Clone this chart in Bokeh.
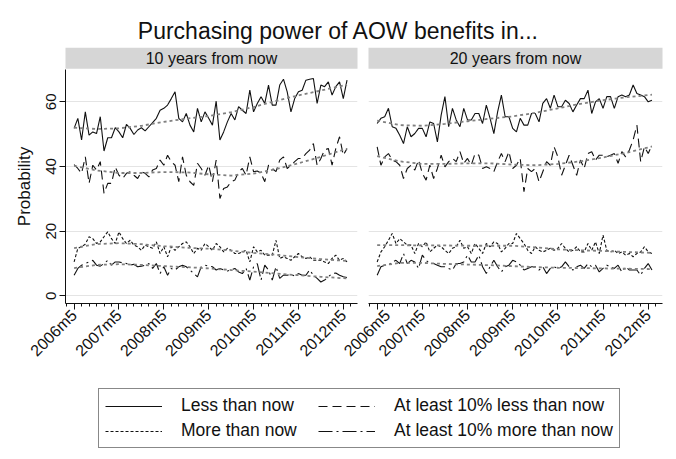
from bokeh.plotting import figure
from bokeh.models import Range1d, FixedTicker, Legend, LegendItem
from bokeh.layouts import column, row
from bokeh.embed import file_html
from bokeh.resources import INLINE
from bokeh.core.properties import value

# ---------------- data ----------------
TITLE = "Purchasing power of AOW benefits in..."
PANELS = ["10 years from now", "20 years from now"]
SERIES = ["Less than now", "More than now",
          "At least 10% less than now", "At least 10% more than now"]
Y_LABEL = "Probability"

MONTHS = list(range(74))                 # 0 = 2006m5 ... 73 = 2012m6
TICK_POS = [0, 12, 24, 36, 48, 60, 72]
TICK_LABELS = ["2006m5", "2007m5", "2008m5", "2009m5", "2010m5", "2011m5", "2012m5"]
MINOR_POS = list(range(-2, 76, 2))
Y_TICKS = [0, 20, 40, 60]
TREND_T = [0, 6, 12, 18, 24, 30, 36, 42, 48, 54, 60, 66, 73]

# 10 years from now
P10_LESS = [51.8, 54.9, 48.2, 56.9, 49.7, 50.7, 50.2, 55.4, 44.8, 48.9,
            48.9, 52.0, 50.7, 48.9, 53.0, 51.8, 49.9, 51.3, 52.0, 51.0,
            52.3, 53.6, 54.9, 57.4, 58.0, 59.0, 61.0, 63.1, 54.9, 53.8,
            56.4, 52.8, 50.7, 58.0, 53.8, 56.9, 54.9, 52.8, 60.2, 48.2,
            50.7, 53.8, 56.4, 54.4, 58.5, 57.4, 56.4, 63.6, 56.9, 59.5,
            61.6, 59.5, 65.2, 59.0, 59.0, 65.2, 67.0, 63.1, 56.9, 61.0,
            63.1, 63.6, 66.7, 67.0, 67.2, 59.5, 65.2, 64.7, 66.2, 62.1,
            64.7, 66.2, 61.0, 66.7]
P10_MORE = [10.5, 14.7, 15.2, 16.0, 18.3, 17.7, 16.2, 16.7, 18.3, 19.8,
            17.7, 16.2, 19.8, 17.7, 16.2, 17.2, 15.7, 15.2, 14.1, 15.7,
            15.2, 14.7, 16.7, 13.1, 15.2, 12.1, 15.2, 14.1, 15.2, 16.2,
            16.7, 15.2, 13.1, 14.7, 14.1, 16.2, 15.2, 14.1, 16.2, 15.2,
            13.6, 14.7, 14.1, 13.1, 13.1, 13.6, 14.1, 10.5, 15.2, 13.6,
            14.1, 12.6, 12.6, 12.6, 17.2, 11.6, 12.1, 11.6, 11.0, 12.1,
            13.1, 12.1, 11.6, 12.1, 11.0, 11.0, 11.0, 10.5, 10.0, 11.6,
            12.6, 11.0, 11.6, 10.5]
P10_LESS10 = [40.6, 39.4, 37.9, 43.0, 34.8, 40.4, 38.9, 41.5, 31.7, 34.8,
              34.8, 39.9, 37.3, 36.3, 37.9, 38.4, 37.3, 36.3, 38.4, 37.9,
              36.8, 38.9, 39.4, 42.0, 40.4, 43.5, 41.5, 40.4, 35.3, 43.0,
              37.3, 35.3, 34.2, 41.0, 39.4, 37.3, 40.4, 35.3, 42.0, 30.1,
              33.2, 33.7, 35.3, 35.8, 38.4, 39.4, 37.3, 43.0, 38.4, 38.6,
              37.9, 35.3, 40.4, 39.4, 38.4, 42.0, 43.0, 39.4, 40.4, 41.5,
              42.5, 42.5, 44.0, 45.1, 47.1, 40.4, 42.5, 45.1, 45.6, 40.4,
              45.6, 49.2, 43.5, 45.6]
P10_MORE10 = [6.4, 8.5, 9.5, 10.0, 10.5, 11.0, 9.5, 9.2, 10.0, 11.0,
              9.5, 10.5, 10.5, 10.2, 10.0, 9.5, 9.8, 9.0, 9.2, 9.5,
              10.0, 8.5, 10.0, 6.9, 9.0, 6.4, 8.5, 8.0, 9.0, 9.5,
              9.0, 8.0, 6.9, 5.9, 9.0, 9.5, 9.2, 9.0, 8.0, 8.5,
              8.0, 7.7, 8.0, 8.5, 7.4, 6.9, 8.5, 4.9, 9.0, 10.0,
              4.9, 9.5, 8.0, 4.9, 9.0, 5.4, 6.4, 6.4, 6.7, 6.1,
              6.9, 6.4, 6.4, 8.0, 6.4, 5.4, 4.3, 4.9, 5.9, 6.9,
              7.1, 6.4, 5.9, 5.7]
P10_LESS_TREND = [52.0, 51.6, 51.8, 52.6, 53.8, 54.8, 55.6, 56.8, 58.4, 60.3, 62.0, 63.5, 65.3]
P10_MORE_TREND = [14.8, 16.0, 16.3, 16.0, 15.4, 14.9, 14.6, 14.0, 13.3, 12.7, 12.0, 11.4, 10.8]
P10_LESS10_TREND = [40.2, 38.8, 38.0, 38.0, 38.3, 38.2, 37.6, 37.2, 37.8, 39.2, 41.0, 43.0, 45.5]
P10_MORE10_TREND = [8.6, 9.6, 9.8, 9.6, 9.2, 8.9, 8.5, 8.0, 7.5, 6.9, 6.4, 5.9, 5.4]

# 20 years from now
P20_LESS = [53.3, 54.9, 55.4, 58.0, 52.3, 51.8, 49.7, 47.1, 52.3, 49.2,
            50.2, 51.8, 51.8, 49.2, 53.8, 53.3, 47.6, 55.9, 61.6, 52.3,
            58.0, 54.4, 52.3, 58.0, 54.4, 54.4, 56.4, 56.4, 53.3, 59.0,
            54.9, 50.2, 56.9, 62.1, 55.4, 55.4, 51.8, 50.7, 54.9, 52.8,
            52.8, 56.4, 56.4, 53.8, 59.5, 61.0, 58.0, 62.1, 58.5, 58.5,
            60.5, 59.5, 56.9, 59.0, 61.0, 61.0, 63.6, 56.4, 60.0, 61.0,
            58.0, 61.6, 61.6, 58.0, 61.6, 62.1, 61.6, 62.1, 65.2, 62.6,
            62.1, 61.6, 60.0, 60.5]
P20_MORE = [10.5, 13.6, 15.2, 17.2, 19.3, 16.2, 17.7, 16.7, 15.7, 15.7,
            13.1, 16.2, 15.2, 16.7, 13.6, 14.7, 15.7, 15.2, 14.1, 13.1,
            14.7, 15.2, 17.2, 14.7, 15.2, 13.1, 16.2, 14.7, 13.1, 16.2,
            15.2, 16.7, 16.2, 13.6, 14.7, 16.2, 16.2, 19.3, 17.7, 16.2,
            14.1, 13.1, 15.2, 14.1, 13.6, 14.1, 14.7, 14.1, 14.7, 16.2,
            14.7, 13.6, 14.1, 15.2, 13.6, 13.6, 16.2, 14.1, 16.7, 13.1,
            18.8, 14.1, 13.6, 14.1, 13.1, 13.6, 12.6, 13.1, 12.1, 13.1,
            13.6, 15.2, 13.6, 13.1]
P20_LESS10 = [46.1, 40.4, 43.0, 44.0, 42.0, 41.5, 40.4, 36.3, 39.4, 40.4,
              38.9, 42.0, 37.9, 35.8, 40.4, 36.3, 39.4, 43.5, 39.9, 41.5,
              42.5, 41.5, 44.6, 41.0, 42.5, 40.4, 44.0, 43.5, 39.4, 39.9,
              39.4, 38.4, 41.5, 44.0, 41.5, 44.6, 39.4, 40.4, 42.5, 32.2,
              39.4, 38.4, 39.4, 35.3, 38.4, 41.5, 40.4, 46.1, 43.0, 37.3,
              40.4, 43.5, 40.4, 37.3, 42.0, 39.4, 44.0, 44.6, 42.0, 43.5,
              43.5, 43.0, 43.5, 44.0, 41.0, 44.6, 43.0, 45.1, 48.2, 52.8,
              41.5, 46.1, 44.0, 46.6]
P20_MORE10 = [6.4, 9.0, 9.5, 9.5, 10.5, 11.0, 10.0, 13.1, 10.0, 11.0,
              10.5, 8.5, 12.6, 11.0, 10.0, 10.0, 9.5, 9.0, 9.0, 8.5,
              8.0, 10.0, 10.0, 10.5, 12.6, 10.5, 10.5, 12.6, 9.0, 6.9,
              9.0, 11.0, 9.0, 7.4, 9.0, 9.5, 11.0, 10.5, 9.5, 8.0,
              8.5, 9.0, 9.0, 8.0, 9.0, 6.9, 8.5, 9.0, 8.5, 9.0,
              10.5, 9.0, 8.0, 9.0, 9.5, 8.5, 10.0, 9.0, 9.5, 7.4,
              8.5, 9.5, 9.0, 8.5, 9.5, 7.4, 9.0, 8.0, 8.0, 8.0,
              6.4, 8.5, 10.0, 8.0]
P20_LESS_TREND = [54.2, 52.8, 52.6, 53.2, 54.0, 54.8, 55.5, 56.6, 58.0, 59.4, 60.5, 61.4, 62.2]
P20_MORE_TREND = [15.7, 15.7, 15.6, 15.6, 15.5, 15.5, 15.5, 15.0, 14.4, 14.1, 13.9, 13.6, 13.3]
P20_LESS10_TREND = [43.2, 41.6, 40.8, 40.8, 41.0, 41.0, 40.6, 40.4, 40.8, 41.6, 42.8, 44.2, 46.2]
P20_MORE10_TREND = [9.2, 10.2, 10.2, 9.9, 9.7, 9.5, 9.2, 8.9, 8.7, 8.6, 8.5, 8.4, 8.3]

PANEL_DATA = [
    [P10_LESS, P10_MORE, P10_LESS10, P10_MORE10],
    [P20_LESS, P20_MORE, P20_LESS10, P20_MORE10],
]
PANEL_TRENDS = [
    [P10_LESS_TREND, P10_MORE_TREND, P10_LESS10_TREND, P10_MORE10_TREND],
    [P20_LESS_TREND, P20_MORE_TREND, P20_LESS10_TREND, P20_MORE10_TREND],
]

# ---------------- style ----------------
FONT = "Liberation Sans"
INK = "#111111"
DASHES = ["solid", "3 2", "9 5", "14 4 2 4"]
TREND_COLOR = "#808080"
STRIP_COLOR = "#d6d6d6"
GRID_COLOR = "#e4e4e4"

PAGE_MARGIN = 8
TOTAL_W = 660
HDR_H = 61
PANEL_H = 310
FRAME_H = 234
LEFT_BORDER = 57
LEFT_FRAME_W = 292
LEFT_RIGHT_BORDER = 5
OVERLAP = 22
RIGHT_BORDER_L = 28
RIGHT_FRAME_W = 294
RIGHT_BORDER_R = 6
LEG_H = 70
X_RANGE = (-2.3, 75.8)
Y_RANGE = (-2.35, 70)

left_w = LEFT_BORDER + LEFT_FRAME_W + LEFT_RIGHT_BORDER
right_w = RIGHT_BORDER_L + RIGHT_FRAME_W + RIGHT_BORDER_R
frames = [(LEFT_BORDER, LEFT_BORDER + LEFT_FRAME_W),
          (left_w - OVERLAP + RIGHT_BORDER_L,
           left_w - OVERLAP + RIGHT_BORDER_L + RIGHT_FRAME_W)]


def make_panel(idx):
    first = idx == 0
    p = figure(width=left_w if first else right_w, height=PANEL_H,
               x_range=Range1d(*X_RANGE), y_range=Range1d(*Y_RANGE),
               toolbar_location=None, output_backend="svg",
               min_border_left=LEFT_BORDER if first else RIGHT_BORDER_L,
               min_border_right=LEFT_RIGHT_BORDER if first else RIGHT_BORDER_R,
               min_border_top=0, min_border_bottom=PANEL_H - FRAME_H,
               outline_line_color=None,
               background_fill_color=None, border_fill_color=None,
               margin=(0, 0, 0, 0) if first else (0, 0, 0, -OVERLAP))
    for vals, dash in zip(PANEL_DATA[idx], DASHES):
        p.line(MONTHS, vals, line_color=INK, line_width=1.1, line_dash=dash)
    for tr in PANEL_TRENDS[idx]:
        p.line(TREND_T, tr, line_color=TREND_COLOR, line_width=1.8, line_dash="3 3")

    xa = p.xaxis[0]
    xa.ticker = FixedTicker(ticks=TICK_POS, minor_ticks=MINOR_POS)
    xa.major_label_overrides = {t: lab for t, lab in zip(TICK_POS, TICK_LABELS)}
    xa.major_label_orientation = 0.785398
    xa.major_label_text_font = FONT
    xa.major_label_text_font_size = "16px"
    xa.major_label_text_color = INK
    xa.major_label_standoff = 3
    xa.axis_line_color = INK
    xa.major_tick_line_color = INK
    xa.minor_tick_line_color = INK
    xa.major_tick_out = 6
    xa.major_tick_in = 0
    xa.minor_tick_out = 3
    xa.minor_tick_in = 0

    ya = p.yaxis[0]
    ya.ticker = FixedTicker(ticks=Y_TICKS, minor_ticks=[])
    ya.major_label_orientation = "vertical"
    ya.major_label_text_font = FONT
    ya.major_label_text_font_size = "15px"
    ya.major_label_text_color = INK
    ya.major_label_standoff = 3
    ya.axis_line_color = INK
    ya.major_tick_line_color = INK
    ya.major_tick_out = 6
    ya.major_tick_in = 0
    ya.axis_label = Y_LABEL
    ya.axis_label_text_font = FONT
    ya.axis_label_text_font_size = "17px"
    ya.axis_label_text_font_style = "normal"
    ya.axis_label_text_color = INK
    ya.axis_label_standoff = 10
    if not first:
        ya.visible = False

    p.xgrid.visible = False
    p.ygrid.grid_line_color = GRID_COLOR
    p.ygrid.grid_line_width = 1
    return p


# header: title + facet strips
hdr = figure(width=TOTAL_W, height=HDR_H, x_range=Range1d(0, TOTAL_W),
             y_range=Range1d(HDR_H, 0), x_axis_type=None, y_axis_type=None,
             min_border=0, toolbar_location=None, output_backend="svg",
             outline_line_color=None)
hdr.text(x=[TOTAL_W / 2], y=[22.5], text=[TITLE], text_font=value(FONT),
         text_font_size="23px", text_color=INK, text_align="center",
         text_baseline="alphabetic")
strip_top, strip_bottom = HDR_H - 21.7, HDR_H - 0.7
hdr.quad(left=[f[0] for f in frames], right=[f[1] for f in frames],
         top=[strip_top] * 2, bottom=[strip_bottom] * 2,
         fill_color=STRIP_COLOR, line_color=None)
hdr.text(x=[(f[0] + f[1]) / 2 for f in frames], y=[(strip_top + strip_bottom) / 2 + 0.5] * 2,
         text=PANELS, text_font=value(FONT), text_font_size="16px",
         text_color=INK, text_align="center", text_baseline="middle")

panels = [make_panel(0), make_panel(1)]

# legend (its renderers carry the real first-panel series, drawn off-screen)
leg = figure(width=TOTAL_W, height=LEG_H, x_range=Range1d(-300, -299), y_range=Range1d(0, 1),
             x_axis_type=None, y_axis_type=None, min_border=0,
             toolbar_location=None, output_backend="svg", outline_line_color=None)
items = []
for name, vals, dash in zip(SERIES, PANEL_DATA[0], DASHES):
    r = leg.line(MONTHS, vals, line_color=INK, line_width=1.1, line_dash=dash)
    items.append(LegendItem(label=name, renderers=[r]))
legend = Legend(items=items, location=(90, 1), orientation="vertical", nrows=2,
                label_text_font=FONT, label_text_font_size="17.5px",
                label_text_color=INK, glyph_width=57, glyph_height=20,
                label_height=20, label_width=133, label_standoff=19, spacing=4,
                padding=6, margin=0, border_line_color=INK, border_line_width=1,
                background_fill_color="white", background_fill_alpha=1)
leg.add_layout(legend)

layout = column(hdr, row(*panels), leg, margin=PAGE_MARGIN)
open("out.html", "w").write(file_html(layout, INLINE))
